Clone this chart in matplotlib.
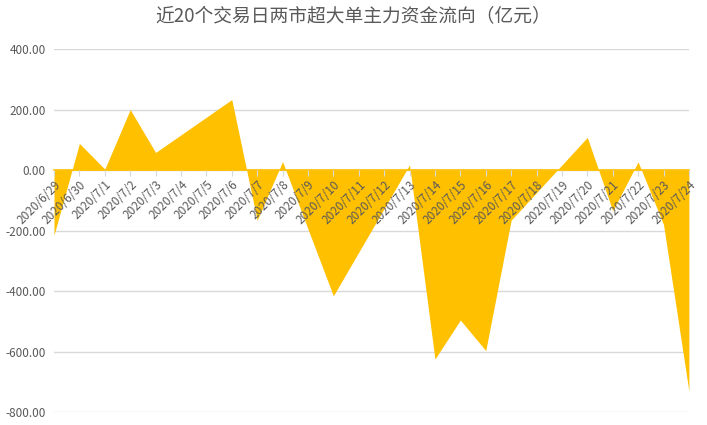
import pandas as pd
import matplotlib
matplotlib.use('Agg')
import matplotlib.pyplot as plt
import matplotlib.dates as mdates

plt.rcParams['font.family'] = ['Noto Sans CJK SC', 'DejaVu Sans']

# 交易日 & 超大单主力资金净流入（亿元）
trade_days = ['2020-06-29', '2020-06-30', '2020-07-01', '2020-07-02', '2020-07-03',
              '2020-07-06', '2020-07-07', '2020-07-08', '2020-07-09', '2020-07-10',
              '2020-07-13', '2020-07-14', '2020-07-15', '2020-07-16', '2020-07-17',
              '2020-07-20', '2020-07-21', '2020-07-22', '2020-07-23', '2020-07-24']
flows = [-215, 88, 3, 200, 58,
         233, -166, 28, -195, -416,
         17, -625, -496, -597, -166,
         108, -135, 27, -180, -731]
y_ticks = [400, 200, 0, -200, -400, -600, -800]
title = '近20个交易日两市超大单主力资金流向（亿元）'

gold = '#FFC000'
gray_txt = '#595959'

x = pd.to_datetime(trade_days)
all_days = pd.date_range(x[0], x[-1], freq='D')
day_labels = [f'{d.year}/{d.month}/{d.day}' for d in all_days]

fig = plt.figure(figsize=(7.07, 4.25), dpi=100)
ax = fig.add_axes([0.0764, 0.0306, 0.898, 0.854])

ax.fill_between(x, flows, 0, color=gold, linewidth=0, zorder=2)

ax.set_ylim(-800, 400)
ax.set_xlim(x[0], x[-1])
ax.set_yticks(y_ticks)
ax.set_yticklabels([f'{v:.2f}' for v in y_ticks], color=gray_txt, fontsize=8.5)
ax.grid(axis='y', color='#D9D9D9', linewidth=1)
ax.set_axisbelow(True)
ax.xaxis.set_zorder(5)  # 日期标签画在面积上面

# 类别轴放在0处
for s in ['top', 'right', 'left']:
    ax.spines[s].set_visible(False)
ax.spines['bottom'].set_position(('data', 0))
ax.spines['bottom'].set_color(gold)
ax.spines['bottom'].set_linewidth(1.2)
ax.spines['bottom'].set_zorder(3)

ax.set_xticks(all_days)
ax.set_xticklabels(day_labels, rotation=45, ha='right', va='top',
                   rotation_mode='anchor', color=gray_txt, fontsize=8.5)
ax.tick_params(axis='x', length=4, color='#D9D9D9', pad=2)
ax.tick_params(axis='y', length=0, pad=6)

fig.suptitle(title, x=0.5, y=0.985, fontsize=13.5, color=gray_txt)

fig.savefig('out.png', dpi=100)
